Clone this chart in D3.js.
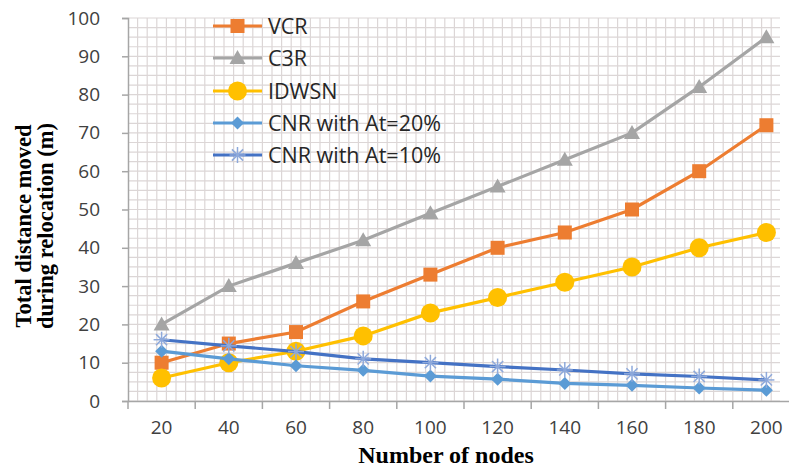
<!DOCTYPE html>
<html>
<head>
<meta charset="utf-8">
<script src="https://cdn.jsdelivr.net/npm/d3@7"></script>
<style>
  body { margin: 0; background: #fff; }
  svg { display: block; }
</style>
</head>
<body>
<div id="chart"></div>
<script>
// data
var nodes = ["20", "40", "60", "80", "100", "120", "140", "160", "180", "200"];
var vcr = [10, 15, 18, 26, 33, 40, 44, 50, 60, 72];
var c3r = [20, 30, 36, 42, 49, 56, 63, 70, 82, 95];
var idwsn = [6, 10, 13, 17, 23, 27, 31, 35, 40, 44];
var cnr20 = [13, 11, 9.2, 8, 6.5, 5.7, 4.6, 4.1, 3.4, 2.8];
var cnr10 = [16, 14.4, 12.9, 11, 10, 9, 8.1, 7.1, 6.4, 5.5];
var yTicks = [0, 10, 20, 30, 40, 50, 60, 70, 80, 90, 100];

var series = [
  { name: "VCR", values: vcr, color: "#ed7d31", marker: "square" },
  { name: "C3R", values: c3r, color: "#a5a5a5", marker: "triangle" },
  { name: "IDWSN", values: idwsn, color: "#ffc000", marker: "circle" },
  { name: "CNR with At=20%", values: cnr20, color: "#5b9bd5", marker: "diamond" },
  { name: "CNR with At=10%", values: cnr10, color: "#4472c4", marker: "star" }
];

var W = 789, H = 468;
var plotLeft = 128, plotRight = 800, plotTop = 18, plotBottom = 401;

var svg = d3.select("#chart").append("svg")
  .attr("width", W)
  .attr("height", H);

var x = d3.scaleBand().domain(nodes).range([plotLeft, plotRight]).paddingInner(0).paddingOuter(0);
var y = d3.scaleLinear().domain([0, 100]).range([plotBottom, plotTop]);

// minor grid (square mesh)
var grid = svg.append("g").attr("class", "grid");
var gridRight = 780;
var hLines = d3.range(0, 100.01, 2.5);
grid.selectAll("line.h")
  .data(hLines)
  .enter().append("line")
  .attr("class", "h")
  .attr("x1", plotLeft).attr("x2", gridRight)
  .attr("y1", d => y(d)).attr("y2", d => y(d))
  .style("stroke", "#dcd6d6")
  .style("stroke-width", 1.2);

var step = x.bandwidth() / 7;
var vLines = d3.range(plotLeft + step, gridRight + 0.5, step);
grid.selectAll("line.v")
  .data(vLines)
  .enter().append("line")
  .attr("class", "v")
  .attr("x1", d => d).attr("x2", d => d)
  .attr("y1", plotTop).attr("y2", plotBottom)
  .style("stroke", "#dcd6d6")
  .style("stroke-width", 1.2);

// axes
var yAxis = svg.append("g")
  .attr("transform", "translate(" + plotLeft + ",0)")
  .call(d3.axisLeft(y).tickValues(yTicks).tickSize(6).tickPadding(22));
yAxis.select(".domain").style("stroke", "#a6a6a6").style("stroke-width", 1.5);
yAxis.selectAll(".tick line").style("stroke", "#a6a6a6").style("stroke-width", 1.5);
yAxis.selectAll("text")
  .style("font-family", "'Open Sans', sans-serif")
  .style("font-size", "19px")
  .style("fill", "#404040");

var xAxis = svg.append("g")
  .attr("transform", "translate(0," + plotBottom + ")")
  .call(d3.axisBottom(x).tickSize(0).tickPadding(20));
xAxis.select(".domain").style("stroke", "#a6a6a6").style("stroke-width", 1.5);
xAxis.selectAll("text")
  .style("font-family", "'Open Sans', sans-serif")
  .style("font-size", "19px")
  .style("fill", "#404040");

// category boundary ticks
svg.append("g").selectAll("line")
  .data(nodes)
  .enter().append("line")
  .attr("x1", d => x(d)).attr("x2", d => x(d))
  .attr("y1", plotBottom).attr("y2", plotBottom + 8)
  .style("stroke", "#a6a6a6")
  .style("stroke-width", 1.5);

// markers
function drawMarker(g, type, color, cx, cy) {
  if (type === "square") {
    g.append("rect").attr("x", cx - 7).attr("y", cy - 7).attr("width", 14).attr("height", 14)
      .style("fill", color);
  } else if (type === "triangle") {
    g.append("path").attr("d", "M" + cx + "," + (cy - 8) + "L" + (cx + 8) + "," + (cy + 6) + "L" + (cx - 8) + "," + (cy + 6) + "Z")
      .style("fill", color);
  } else if (type === "circle") {
    g.append("circle").attr("cx", cx).attr("cy", cy).attr("r", 9.5).style("fill", color);
  } else if (type === "diamond") {
    g.append("path").attr("d", "M" + cx + "," + (cy - 6.5) + "L" + (cx + 6.5) + "," + cy + "L" + cx + "," + (cy + 6.5) + "L" + (cx - 6.5) + "," + cy + "Z")
      .style("fill", color);
  } else if (type === "star") {
    var r = 8;
    [[-r, 0, r, 0], [0, -r, 0, r], [-r * 0.7, -r * 0.7, r * 0.7, r * 0.7], [-r * 0.7, r * 0.7, r * 0.7, -r * 0.7]].forEach(function (s) {
      g.append("line")
        .attr("x1", cx + s[0]).attr("y1", cy + s[1])
        .attr("x2", cx + s[2]).attr("y2", cy + s[3])
        .style("stroke", "#8ea9db")
        .style("stroke-width", 1.5);
    });
  }
}

var line = d3.line()
  .x(function (d, i) { return x(nodes[i]) + x.bandwidth() / 2; })
  .y(function (d) { return y(d); });

series.forEach(function (s) {
  var g = svg.append("g");
  g.append("path")
    .datum(s.values)
    .attr("d", line)
    .style("fill", "none")
    .style("stroke", s.color)
    .style("stroke-width", 3.2);
  s.values.forEach(function (v, i) {
    drawMarker(g, s.marker, s.color, x(nodes[i]) + x.bandwidth() / 2, y(v));
  });
});

// legend
var legend = svg.append("g");
var legY = [26, 58, 91, 123, 155];
series.forEach(function (s, i) {
  var ly = legY[i];
  legend.append("line")
    .attr("x1", 213).attr("x2", 262)
    .attr("y1", ly).attr("y2", ly)
    .style("stroke", s.color)
    .style("stroke-width", 3.2);
  drawMarker(legend, s.marker, s.color, 237.5, ly);
  legend.append("text")
    .attr("x", 268).attr("y", ly + 8)
    .style("font-family", "'Open Sans', sans-serif")
    .style("font-size", "21.5px")
    .style("fill", "#262626")
    .text(s.name);
});

// axis titles
svg.append("text")
  .attr("transform", "translate(31,226) rotate(-90)")
  .style("text-anchor", "middle")
  .style("font-family", "'Liberation Serif', 'Times New Roman', serif")
  .style("font-weight", "bold")
  .style("font-size", "22.5px")
  .style("fill", "#000")
  .text("Total distance moved");
svg.append("text")
  .attr("transform", "translate(53,226) rotate(-90)")
  .style("text-anchor", "middle")
  .style("font-family", "'Liberation Serif', 'Times New Roman', serif")
  .style("font-weight", "bold")
  .style("font-size", "22.5px")
  .style("fill", "#000")
  .text("during relocation (m)");

svg.append("text")
  .attr("x", 446).attr("y", 463)
  .style("text-anchor", "middle")
  .style("font-family", "'Liberation Serif', 'Times New Roman', serif")
  .style("font-weight", "bold")
  .style("font-size", "24px")
  .style("fill", "#000")
  .text("Number of nodes");
</script>
</body>
</html>
